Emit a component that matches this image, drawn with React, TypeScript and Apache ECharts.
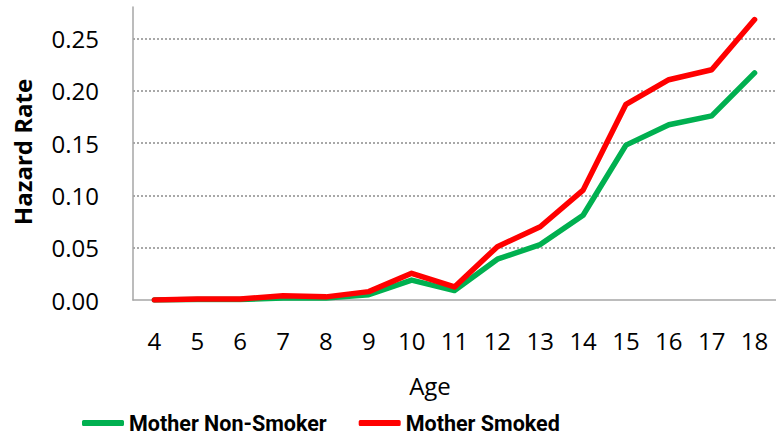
import React, { useEffect, useRef } from "react";
import * as echarts from "echarts";

const ages = ["4", "5", "6", "7", "8", "9", "10", "11", "12", "13", "14", "15", "16", "17", "18"];
const nonSmoker = [0, 0.0005, 0.0005, 0.002, 0.002, 0.005, 0.019, 0.009, 0.039, 0.053, 0.081, 0.148, 0.1675, 0.176, 0.217];
const smoked = [0, 0.001, 0.001, 0.004, 0.003, 0.008, 0.0255, 0.0125, 0.051, 0.07, 0.105, 0.187, 0.2105, 0.22, 0.268];
const seriesNames = ["Mother Non-Smoker", "Mother Smoked"];
const yTitle = "Hazard Rate";
const xTitle = "Age";

export default function App() {
  const ref = useRef<HTMLDivElement>(null);
  useEffect(() => {
    if (!ref.current) return;
    const chart = echarts.init(ref.current, null, { renderer: "svg" });
    const font = "Open Sans";
    chart.setOption({
      animation: false,
      backgroundColor: "#ffffff",
      grid: { left: 133, top: 7, width: 648, height: 293, containLabel: false },
      legend: {
        left: 82,
        top: 412,
        padding: 0,
        itemWidth: 42,
        itemHeight: 6,
        itemGap: 32,
        itemTextGap: 3,
        icon: "roundRect",
        textStyle: { fontFamily: "Roboto", fontWeight: "bold", fontSize: 21.5, color: "#000" },
        data: seriesNames,
      },
      xAxis: {
        type: "category",
        data: ages,
        boundaryGap: true,
        axisTick: { show: false },
        axisLine: { lineStyle: { color: "#a6a6a6", width: 1.5 } },
        axisLabel: { fontFamily: font, fontSize: 24, color: "#000", margin: 28, interval: 0 },
      },
      yAxis: {
        type: "value",
        min: 0,
        max: 0.28,
        interval: 0.05,
        axisLine: { show: true, lineStyle: { color: "#a6a6a6", width: 1.5 } },
        axisTick: { show: false },
        axisLabel: {
          fontFamily: font,
          fontSize: 24,
          color: "#000",
          margin: 34,
          showMaxLabel: false,
          formatter: (v: number) => v.toFixed(2),
        },
        splitLine: {
          show: true,
          showMinLine: false,
          showMaxLine: false,
          lineStyle: { color: "#8c8c8c", width: 1.5, type: [2, 2] },
        },
      },
      graphic: [
        {
          type: "text",
          x: 22,
          y: 152,
          rotation: Math.PI / 2,
          style: {
            text: yTitle,
            fontFamily: font,
            fontWeight: "bold",
            fontSize: 24,
            fill: "#000",
            textAlign: "center",
            textVerticalAlign: "middle",
          },
        },
        {
          type: "text",
          x: 430,
          y: 385,
          style: {
            text: xTitle,
            fontFamily: font,
            fontSize: 24,
            fill: "#000",
            textAlign: "center",
            textVerticalAlign: "middle",
          },
        },
      ],
      series: [
        {
          name: seriesNames[0],
          type: "line",
          data: nonSmoker,
          showSymbol: false,
          color: "#00b050",
          lineStyle: { width: 5.5, cap: "round", join: "round", color: "#00b050" },
        },
        {
          name: seriesNames[1],
          type: "line",
          data: smoked,
          showSymbol: false,
          color: "#ff0000",
          lineStyle: { width: 5.5, cap: "round", join: "round", color: "#ff0000" },
        },
      ],
    });
    return () => chart.dispose();
  }, []);
  return <div ref={ref} style={{ width: 776, height: 438, position: "absolute", left: 0, top: 0 }} />;
}
